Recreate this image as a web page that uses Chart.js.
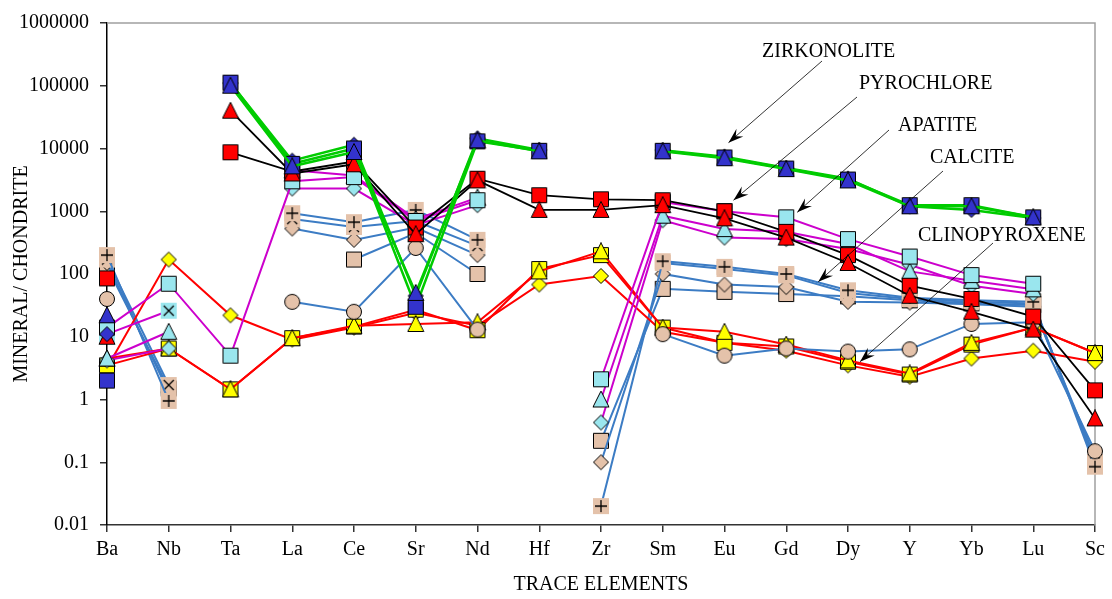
<!DOCTYPE html>
<html>
<head>
<meta charset="utf-8">
<script src="https://cdn.jsdelivr.net/npm/chart.js@4"></script>
<style>
  html, body { margin: 0; padding: 0; background: #fff; }
</style>
</head>
<body>
<canvas id="spider" width="1112" height="599"></canvas>
<script>
// chondrite-normalised trace elements
const elements = ['Ba', 'Nb', 'Ta', 'La', 'Ce', 'Sr', 'Nd', 'Hf', 'Zr', 'Sm', 'Eu', 'Gd', 'Dy', 'Y', 'Yb', 'Lu', 'Sc'];
const yTicks = [0.01, 0.1, 1, 10, 100, 1000, 10000, 100000, 1000000];

// zirkonolite
const zrkTri = [22, null, 100000, 5200, 8800, 50, 13500, 9000, null, 9000, 7000, 4700, 3100, 1200, 1200, 800, null];
const zrkSq  = [2, null, 112000, 5700, 10000, 30, 13000, 9200, null, 9200, 7200, 4800, 3200, 1250, 1250, 800, null];
const zrkDia = [11, null, 110000, 6400, 11500, 45, 14500, 9500, null, 9400, 7400, 4900, 3300, 1200, 1050, 780, null];

// pyrochlore
const pcTri = [10, null, 40000, 4000, 5600, 430, 3100, 1050, 1050, 1250, 770, 380, 150, 45, 25, 13, 0.5];
const pcSq  = [85, null, 8700, 4300, 6200, 550, 3300, 1800, 1550, 1500, 1000, 470, 200, 65, 40, 21, 1.4];

// apatite
const apSq  = [14, 70, 5, 3000, 3500, 700, 1500, null, 2.1, 1400, 1000, 800, 360, 190, 96, 70, null];
const apTri = [4.5, 12, null, 4500, 3700, 750, 1650, null, 1.0, 850, 520, 470, 300, 110, 78, 57, null];
const apDia = [4.2, 6.5, null, 2300, 2300, 600, 1250, null, 0.43, 720, 380, 360, 250, 140, 65, 48, null];
const apX   = [11, 26, null, null, null, null, null, null, null, null, null, null, null, null, null, null, null];

// calcite
const calCirc = [40, null, null, 36, 25, 260, 13, null, null, 11, 5, 6.5, 5.8, 6.3, 16, 17, 0.15];
const calPlus = [200, 0.95, null, 930, 670, 1050, 350, null, 0.02, 160, 130, 100, 55, 42, 38, 36, 0.085];
const calX    = [170, 1.7, null, 750, 560, 700, 280, null, null, 150, 120, 95, 50, 40, 36, 34, 0.1];
const calDia  = [150, 1.3, null, 530, 350, 550, 200, null, 0.1, 100, 68, 62, 36, 35, 33, 30, 0.12];
const calSq   = [130, 1.5, null, null, 170, 450, 100, null, 0.22, 58, 52, 48, 44, 38, 34, 32, 0.1];

// clinopyroxene
const cpxTri = [4.5, 6.5, 1.45, 9.5, 15, 16, 17, 110, 230, 14, 12, 7.5, 4.2, 2.6, 8, 14, 5.5];
const cpxSq  = [3.5, 6.5, 1.45, 9.5, 14.5, 27, 12.7, 120, 200, 14, 8, 7, 4, 2.5, 7.5, 14, 5.5];
const cpxDia = [3.2, 170, 22, 9, 14, 24, 15, 68, 93, 12, 8, 6, 3.5, 2.3, 4.5, 6, 4];

const BLUE = '#3333cc', RED = '#ff0000', CYAN = '#9ae6ee', TAN = '#e4c2aa', YELLOW = '#ffff00';
const GREEN_LINE = '#00cc00', BLACK_LINE = '#000000', MAGENTA_LINE = '#cc00cc', STEEL_LINE = '#3c7cc4', RED_LINE = '#ff0000';

function marker(shape, fill) {
    const s = 18;
    const c = document.createElement('canvas');
    c.width = s; c.height = s;
    const g = c.getContext('2d');
    g.fillStyle = fill;
    g.strokeStyle = '#000';
    g.lineWidth = 1;
    g.beginPath();
    if (shape === 'square') {
        g.rect(1.5, 1.5, 15, 15);
    } else if (shape === 'triangle') {
        g.moveTo(9, 0.5); g.lineTo(17, 16.5); g.lineTo(1, 16.5); g.closePath();
    } else if (shape === 'diamond') {
        g.moveTo(9, 1.5); g.lineTo(16.5, 9); g.lineTo(9, 16.5); g.lineTo(1.5, 9); g.closePath();
    } else if (shape === 'circle') {
        g.arc(9, 9, 7.5, 0, Math.PI * 2);
    } else {
        g.rect(1, 1, 16, 16);
        g.fill();
        g.beginPath();
        if (shape === 'plus') {
            g.moveTo(9, 3); g.lineTo(9, 15); g.moveTo(3, 9); g.lineTo(15, 9);
        } else {
            g.moveTo(4, 4); g.lineTo(14, 14); g.moveTo(14, 4); g.lineTo(4, 14);
        }
        g.lineWidth = 1.3;
        g.stroke();
        return c;
    }
    g.fill();
    g.stroke();
    return c;
}

function series(label, data, line, shape, fill, width) {
    return {
        label: label,
        data: data,
        borderColor: line,
        backgroundColor: fill,
        borderWidth: width || 2,
        pointStyle: marker(shape, fill),
        pointRadius: 8,
        tension: 0,
        fill: false
    };
}

// first dataset is drawn on top
const datasets = [
    series('Zirkonolite 1', zrkTri, GREEN_LINE, 'triangle', BLUE, 2.5),
    series('Zirkonolite 2', zrkSq, GREEN_LINE, 'square', BLUE, 2.5),
    series('Zirkonolite 3', zrkDia, GREEN_LINE, 'diamond', BLUE, 2.5),
    series('Pyrochlore 1', pcTri, BLACK_LINE, 'triangle', RED, 1.8),
    series('Pyrochlore 2', pcSq, BLACK_LINE, 'square', RED, 1.8),
    series('Apatite 1', apSq, MAGENTA_LINE, 'square', CYAN),
    series('Apatite 2', apTri, MAGENTA_LINE, 'triangle', CYAN),
    series('Apatite 3', apDia, MAGENTA_LINE, 'diamond', CYAN),
    series('Apatite 4', apX, MAGENTA_LINE, 'cross', CYAN),
    series('Calcite 1', calCirc, STEEL_LINE, 'circle', TAN),
    series('Clinopyroxene 1', cpxTri, RED_LINE, 'triangle', YELLOW),
    series('Clinopyroxene 2', cpxSq, RED_LINE, 'square', YELLOW),
    series('Clinopyroxene 3', cpxDia, RED_LINE, 'diamond', YELLOW),
    series('Calcite 2', calPlus, STEEL_LINE, 'plus', TAN),
    series('Calcite 3', calX, STEEL_LINE, 'cross', TAN),
    series('Calcite 4', calDia, STEEL_LINE, 'diamond', TAN),
    series('Calcite 5', calSq, STEEL_LINE, 'square', TAN)
];

// callouts: label position in pixels, arrow tip on (category, value)
const callouts = [
    { text: 'ZIRKONOLITE', x: 762, y: 52, from: [822, 61], tip: ['Eu', 12400, 4] },
    { text: 'PYROCHLORE', x: 859, y: 84, from: [857, 97], tip: ['Eu', 1500, 9] },
    { text: 'APATITE', x: 898, y: 126, from: [889, 130], tip: ['Gd', 960, 11] },
    { text: 'CALCITE', x: 930, y: 158, from: [943, 171], tip: ['Gd', 75, 32] },
    { text: 'CLINOPYROXENE', x: 918, y: 236, from: [993, 243], tip: ['Dy', 4, 12] }
];

const SERIF = '"Liberation Serif", "Times New Roman", serif';

const frame = {
    id: 'frame',
    beforeDatasetsDraw(chart) {
        const a = chart.chartArea, ctx = chart.ctx;
        ctx.save();
        ctx.strokeStyle = '#a0a0a0';
        ctx.lineWidth = 1.5;
        ctx.beginPath();
        ctx.moveTo(a.left, a.top);
        ctx.lineTo(a.right, a.top);
        ctx.lineTo(a.right, a.bottom);
        ctx.stroke();
        ctx.restore();
    },
    afterDatasetsDraw(chart) {
        const ctx = chart.ctx, xs = chart.scales.x, ys = chart.scales.y;
        ctx.save();
        ctx.font = '20px ' + SERIF;
        ctx.fillStyle = '#000';
        ctx.textBaseline = 'middle';
        callouts.forEach(function (c) {
            ctx.fillText(c.text, c.x, c.y);
            const tx = xs.getPixelForValue(elements.indexOf(c.tip[0])) + c.tip[2];
            const ty = ys.getPixelForValue(c.tip[1]);
            const fx = c.from[0], fy = c.from[1];
            ctx.strokeStyle = '#000';
            ctx.lineWidth = 0.8;
            ctx.beginPath();
            ctx.moveTo(fx, fy);
            ctx.lineTo(tx, ty);
            ctx.stroke();
            const ang = Math.atan2(ty - fy, tx - fx);
            const len = 16, spread = 0.33;
            ctx.beginPath();
            ctx.moveTo(tx, ty);
            ctx.lineTo(tx - len * Math.cos(ang - spread), ty - len * Math.sin(ang - spread));
            ctx.lineTo(tx - len * 0.6 * Math.cos(ang), ty - len * 0.6 * Math.sin(ang));
            ctx.lineTo(tx - len * Math.cos(ang + spread), ty - len * Math.sin(ang + spread));
            ctx.closePath();
            ctx.fillStyle = '#000';
            ctx.fill();
        });
        ctx.restore();
    }
};

let ctx = document.getElementById('spider').getContext('2d');
let spiderChart = new Chart(ctx, {
    type: 'line',
    data: {
        labels: elements,
        datasets: datasets
    },
    options: {
        responsive: false,
        animation: false,
        events: [],
        layout: { padding: { left: 0, right: 17, top: 20, bottom: 0 } },
        plugins: {
            legend: { display: false },
            tooltip: { enabled: false }
        },
        scales: {
            x: {
                type: 'category',
                offset: false,
                afterFit(scale) { scale.height = 74; },
                grid: { drawOnChartArea: false, drawTicks: true, tickLength: 7, color: '#333', lineWidth: 1.5 },
                border: { color: '#333', width: 1.5 },
                ticks: { color: '#000', font: { family: SERIF, size: 20 }, padding: 6, maxRotation: 0, autoSkip: false },
                title: {
                    display: true,
                    text: 'TRACE ELEMENTS',
                    color: '#000',
                    font: { family: SERIF, size: 20 },
                    padding: { top: 0, bottom: 2 }
                }
            },
            y: {
                type: 'logarithmic',
                min: 0.01,
                max: 1000000,
                afterFit(scale) { scale.width = 107; },
                afterBuildTicks(scale) {
                    scale.ticks = yTicks.map(function (v) { return { value: v }; });
                },
                grid: { drawOnChartArea: false, drawTicks: true, tickLength: 7, color: '#333', lineWidth: 1.5 },
                border: { color: '#000', width: 1.5 },
                ticks: {
                    color: '#000',
                    font: { family: SERIF, size: 20 },
                    padding: 11,
                    callback: function (v) { return String(v); }
                },
                title: {
                    display: true,
                    text: 'MINERAL/ CHONDRITE',
                    color: '#000',
                    font: { family: SERIF, size: 20 },
                    padding: { top: 10, bottom: 0 }
                }
            }
        }
    },
    plugins: [frame]
});
</script>
</body>
</html>
